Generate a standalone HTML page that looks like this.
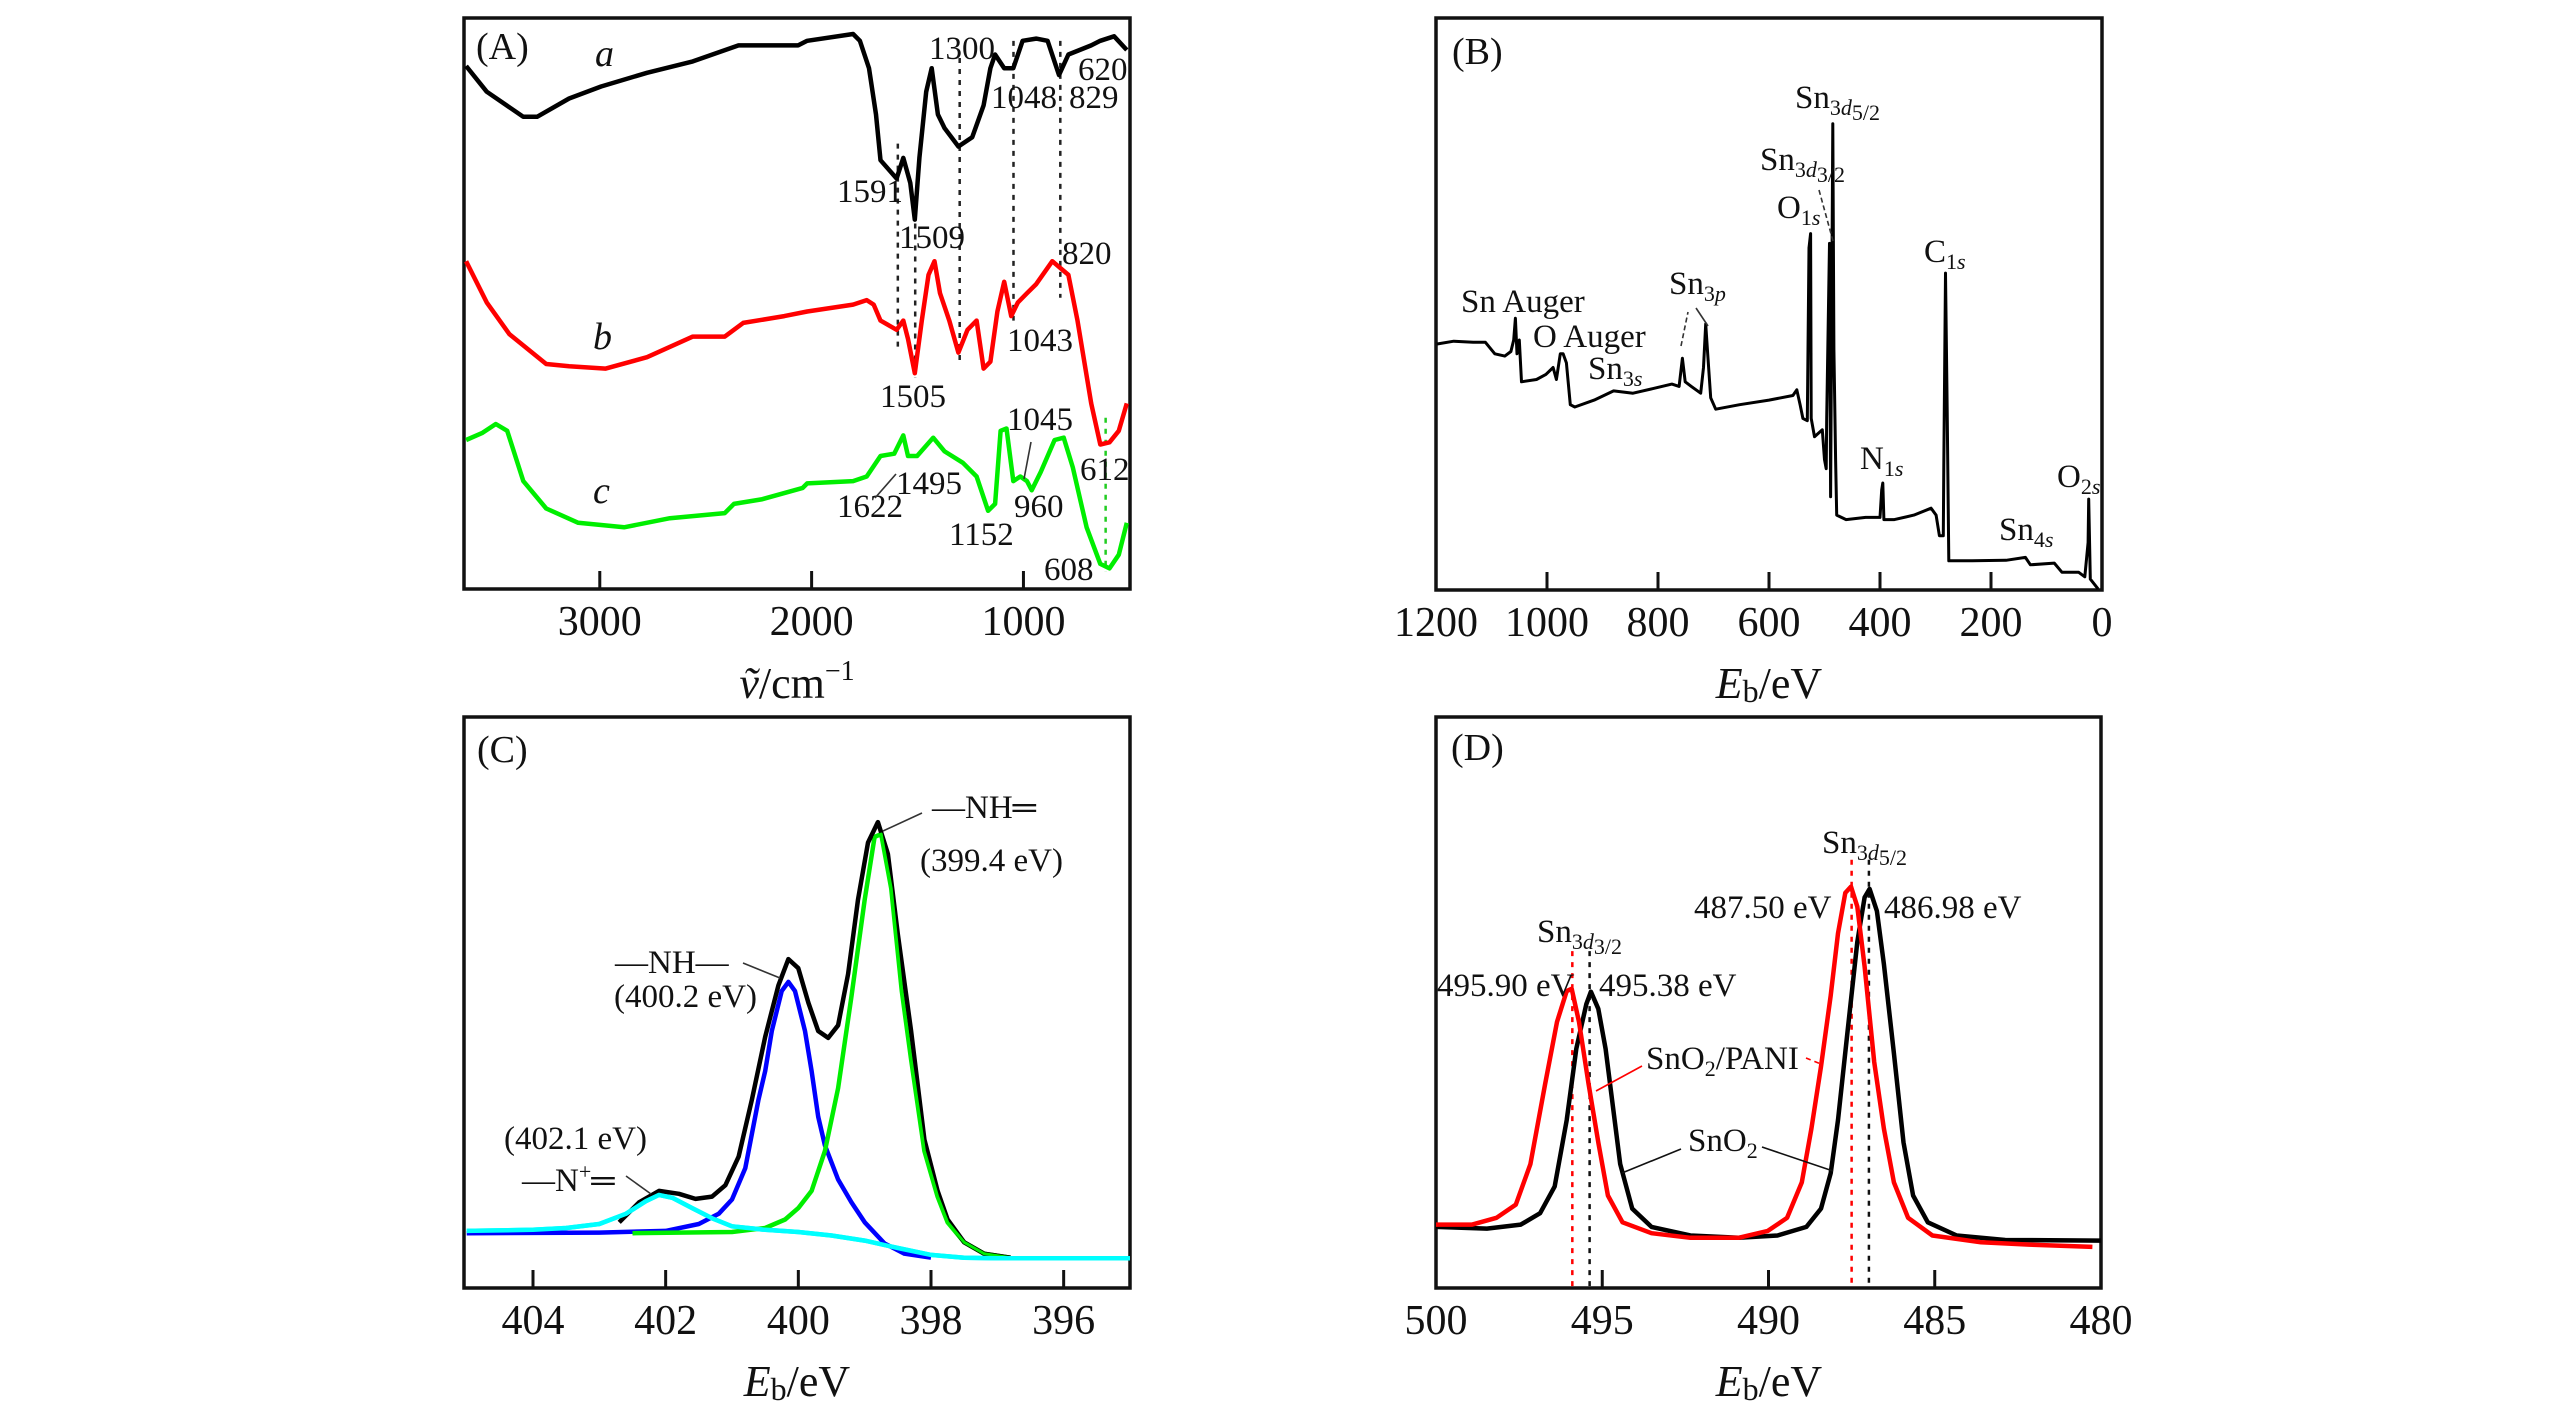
<!DOCTYPE html>
<html><head><meta charset="utf-8"><style>
html,body{margin:0;padding:0;background:#fff}
svg{display:block}
text{font-family:"Liberation Serif","Times New Roman",serif;fill:#111}
</style></head><body>
<svg id="fig" width="2567" height="1417" viewBox="0 0 2567 1417" xmlns="http://www.w3.org/2000/svg" font-family="Liberation Serif, serif">
<g id="g-frames"></g><g id="g-data"></g><g id="g-text" font-size="33">
<!-- Panel A labels -->
<text x="476" y="59" font-size="38">(A)</text>
<text x="595" y="66" font-size="38" font-style="italic">a</text>
<text x="593" y="349" font-size="38" font-style="italic">b</text>
<text x="593" y="503" font-size="38" font-style="italic">c</text>
<text x="929" y="59">1300</text>
<text x="1078" y="80">620</text>
<text x="991" y="108">1048</text>
<text x="1069" y="108">829</text>
<text x="837" y="202">1591</text>
<text x="899" y="248">1509</text>
<text x="1062" y="264">820</text>
<text x="1007" y="351">1043</text>
<text x="880" y="407">1505</text>
<text x="1007" y="430">1045</text>
<text x="1080" y="480">612</text>
<text x="896" y="494">1495</text>
<text x="837" y="517">1622</text>
<text x="1014" y="517">960</text>
<text x="949" y="545">1152</text>
<text x="1044" y="580">608</text>
<text x="797" y="698" font-size="44" text-anchor="middle"><tspan font-style="italic">ṽ</tspan>/cm<tspan dy="-18" font-size="28">−1</tspan></text>
<!-- Panel B labels -->
<text x="1452" y="64" font-size="38">(B)</text>
<text x="1461" y="312">Sn Auger</text>
<text x="1533" y="347">O Auger</text>
<text x="1588" y="379">Sn<tspan dy="7" font-size="22">3<tspan font-style="italic">s</tspan></tspan></text>
<text x="1669" y="294">Sn<tspan dy="7" font-size="22">3<tspan font-style="italic">p</tspan></tspan></text>
<text x="1760" y="170">Sn<tspan dy="7" font-size="22">3<tspan font-style="italic">d</tspan><tspan dy="5">3/2</tspan></tspan></text>
<text x="1777" y="218">O<tspan dy="7" font-size="22">1<tspan font-style="italic">s</tspan></tspan></text>
<text x="1795" y="108">Sn<tspan dy="7" font-size="22">3<tspan font-style="italic">d</tspan><tspan dy="5">5/2</tspan></tspan></text>
<text x="1924" y="262">C<tspan dy="7" font-size="22">1<tspan font-style="italic">s</tspan></tspan></text>
<text x="1860" y="469">N<tspan dy="7" font-size="22">1<tspan font-style="italic">s</tspan></tspan></text>
<text x="2057" y="487">O<tspan dy="7" font-size="22">2<tspan font-style="italic">s</tspan></tspan></text>
<text x="1999" y="540">Sn<tspan dy="7" font-size="22">4<tspan font-style="italic">s</tspan></tspan></text>
<text x="1769" y="698" font-size="44" text-anchor="middle"><tspan font-style="italic">E</tspan><tspan font-size="32" dy="4">b</tspan><tspan dy="-4">/eV</tspan></text>
<!-- Panel C labels -->
<text x="477" y="762" font-size="38">(C)</text>
<text x="932" y="818">—NH═</text>
<text x="920" y="871">(399.4 eV)</text>
<text x="615" y="973">—NH—</text>
<text x="614" y="1007">(400.2 eV)</text>
<text x="504" y="1149">(402.1 eV)</text>
<text x="522" y="1191">—N<tspan dy="-12" font-size="22">+</tspan><tspan dy="12">═</tspan></text>
<text x="797" y="1396" font-size="44" text-anchor="middle"><tspan font-style="italic">E</tspan><tspan font-size="32" dy="4">b</tspan><tspan dy="-4">/eV</tspan></text>
<!-- Panel D labels -->
<text x="1451" y="760" font-size="38">(D)</text>
<text x="1822" y="853">Sn<tspan dy="7" font-size="22">3<tspan font-style="italic">d</tspan><tspan dy="5">5/2</tspan></tspan></text>
<text x="1694" y="918">487.50 eV</text>
<text x="1884" y="918">486.98 eV</text>
<text x="1537" y="942">Sn<tspan dy="7" font-size="22">3<tspan font-style="italic">d</tspan><tspan dy="5">3/2</tspan></tspan></text>
<text x="1437" y="996">495.90 eV</text>
<text x="1599" y="996">495.38 eV</text>
<text x="1646" y="1069">SnO<tspan dy="7" font-size="22">2</tspan><tspan dy="-7">/PANI</tspan></text>
<text x="1688" y="1151">SnO<tspan dy="7" font-size="22">2</tspan></text>
<text x="1769" y="1396" font-size="44" text-anchor="middle"><tspan font-style="italic">E</tspan><tspan font-size="32" dy="4">b</tspan><tspan dy="-4">/eV</tspan></text>
</g>
<g stroke-width="1.6" fill="none">
<line x1="875" y1="498" x2="896" y2="474" stroke="#333"/>
<line x1="1024" y1="479" x2="1031" y2="442" stroke="#333"/>
<line x1="1681" y1="346" x2="1688" y2="312" stroke="#333" stroke-dasharray="5,3"/>
<line x1="1696" y1="308" x2="1708" y2="326" stroke="#333"/>
<line x1="1819" y1="190" x2="1833" y2="241" stroke="#333" stroke-dasharray="5,3"/>
<line x1="883" y1="831" x2="922" y2="813" stroke="#333"/>
<line x1="743" y1="963" x2="780" y2="978" stroke="#333"/>
<line x1="626" y1="1176" x2="651" y2="1194" stroke="#333"/>
<line x1="1596" y1="1091" x2="1642" y2="1066" stroke="#f00"/>
<line x1="1806" y1="1058" x2="1821" y2="1064" stroke="#f00" stroke-dasharray="5,4"/>
<line x1="1622" y1="1173" x2="1681" y2="1149" stroke="#111"/>
<line x1="1762" y1="1147" x2="1833" y2="1171" stroke="#111"/>
</g>
</svg>
<script>
// ===== Panel A (FTIR) data =====
const aWave = [3631,3534,3361,3296,3145,2994,2777,2561,2345,2064,2021,1804,1772,1729,1696,1675,1599,1567,1534,1513,1491,1459,1433,1404,1372,1307,1242,1188,1156,1134,1091,1048,1004,940,886,832,788,680,637,572,512];
const aVals = [91.6,87.1,82.7,82.7,85.9,88,90.4,92.4,95.2,95.2,96,97.2,96,91.2,83.1,75.1,71.9,75.5,71.1,64.7,75.5,87.1,91.2,83.1,80.7,77.5,79.1,84.7,91.2,93.6,91.2,91.2,96,96.4,96,90,93.6,95.2,96,96.8,94.4];
const bWave = [3631,3534,3426,3253,3145,2972,2777,2561,2410,2323,2129,2021,1804,1740,1707,1675,1599,1567,1545,1513,1480,1448,1420,1394,1350,1307,1264,1221,1188,1156,1123,1091,1058,1026,983,940,864,788,745,680,637,594,550,512];
const bVals = [57.4,50.2,44.6,39.4,39,38.6,40.6,44.2,44.2,46.6,47.8,48.6,49.8,50.6,49.8,47,45.4,47,43.8,37.8,47,55,57.4,51.8,47,41.4,45.4,47,38.6,39.8,48.6,53.8,47.8,50.2,51.8,53.4,57.4,55,47,32.5,25.3,25.7,27.7,32.5];
const cWave = [3631,3556,3491,3437,3361,3253,3102,2885,2669,2410,2367,2237,2042,2021,1804,1740,1675,1610,1567,1545,1502,1426,1372,1286,1221,1167,1134,1108,1080,1048,1015,983,961,918,853,810,767,702,637,594,550,512];
const cVals = [26.1,27.3,28.9,27.7,18.9,14.1,11.6,10.8,12.4,13.3,14.9,15.7,17.7,18.5,18.9,19.7,23.3,23.7,26.9,23.3,23.3,26.5,24.1,22.1,19.7,13.7,14.9,27.7,28.1,18.9,19.7,18.9,17.3,20.5,26.1,26.5,21.3,10.8,4.4,3.6,6,11.6];
const aTicks = [3000,2000,1000];
const aMarkBlack = [1593,1511,1301,1047,826];
const aMarkTop = [78,64,93,96,96];
const aMarkBot = [42,37,40,47,51];
const aMarkGreen = [612];

// ===== Panel B (XPS survey) data =====
const sEnergy = [1198,1168,1133,1111,1094,1076,1065,1060,1057,1054,1050,1046,1019,1002,989,983,976,971,965,958,950,915,880,845,810,775,762,756,751,740,723,718,714,710,705,696,653,600,557,550,544,539,531,528,525,524,518,504,500,497,496,491,489,485,483,480,478,461,426,400,397,395,393,374,339,308,299,293,286,285,282,279,276,234,173,138,129,86,72,42,31,25,24,21,7];
const sCounts = [43,43.5,43.3,43.3,41.3,40.9,41.7,43.7,47.5,41.3,43.7,36.4,36.8,37.7,38.9,36.8,41.3,41.3,39.7,32.4,32,33.2,34.8,34.4,35.2,36,35.6,40.5,36.4,35.6,34.4,38.9,46.5,40.5,33.6,31.6,32.4,33.2,34,35,32.4,30,29.6,59.8,62.3,30,26.8,28,22.8,21.2,30,60.6,16.3,81.5,42.1,22.8,13.1,12.3,12.7,12.7,17.5,18.7,12.3,12.3,13.1,14.3,13.1,9.5,9.5,21.6,55.4,31.2,5.1,5.1,5.2,5.7,4.4,4.7,3.1,3.1,2.3,8.3,15.9,1.9,0.2];
const bTicks = [1200,1000,800,600,400,200,0];

// ===== Panel C (N1s) data =====
const nEnvE = [402.7,402.4,402.1,401.8,401.55,401.3,401.1,400.9,400.7,400.5,400.3,400.15,400,399.85,399.7,399.55,399.4,399.25,399.1,398.95,398.8,398.65,398.5,398.3,398.1,397.9,397.75,397.5,397.2,396.8];
const nEnvI = [11.5,15,17,16.5,15.6,16,18,23,33,44,53,57.6,56,50,45,43.8,46,55,68,78,81.6,76,62,45,26,17,12,8,6,5.3];
const nPlusE = [405,404,403.5,403,402.6,402.3,402.1,401.9,401.6,401.3,401,400.5,400,399.5,399,398.5,398,397.5,397,395];
const nPlusI = [10,10.2,10.5,11.2,13,15.2,16.3,15.8,14,12.2,10.8,10.2,9.8,9.2,8.3,7,5.8,5.3,5.2,5.2];
const nAmE = [405,403,402,401.5,401.2,401,400.8,400.6,400.5,400.4,400.25,400.15,400.05,399.9,399.8,399.7,399.6,399.4,399.2,399,398.7,398.4,398];
const nAmI = [9.6,9.7,10,11.2,13,15.5,21,33,38,45,52,53.6,52,45,38,30,25,19,15,11.5,7.8,6,5.3];
const nImE = [402.5,401,400.5,400.2,400,399.8,399.6,399.4,399.2,399,398.85,398.75,398.6,398.44,398.3,398.1,397.9,397.75,397.5,397.2,396.8];
const nImI = [9.6,9.8,10.5,12,14,17,24,35,51,68,79,79.5,70,52,40,24,16,11.5,8,6,5.3];
const cTicks = [404,402,400,398,396];

// ===== Panel D (Sn3d) data =====
const dBlackE = [500,498.47,497.45,496.87,496.43,496.07,495.78,495.48,495.34,495.12,494.9,494.68,494.46,494.1,493.52,492.35,490.9,489.73,488.86,488.42,488.13,487.91,487.62,487.33,487.11,486.96,486.74,486.53,486.23,485.94,485.65,485.21,484.34,482.88,480];
const dBlackI = [10.7,10.4,11.1,13.1,17.8,29.4,41.9,49.7,51.9,48.9,41.9,31.8,21.7,13.9,10.7,9.2,8.8,9.2,10.7,13.9,20.1,29.4,45,60.6,68.4,69.9,66,56.7,41.1,25.5,16.2,11.5,9.2,8.4,8.3];
const dRedE = [500,498.91,498.18,497.6,497.16,496.72,496.36,496.07,495.92,495.7,495.41,495.12,494.83,494.39,493.52,492.35,490.9,490.02,489.44,489,488.71,488.42,488.13,487.91,487.69,487.52,487.33,487.11,486.82,486.53,486.23,485.8,485.07,483.61,482.16,480.26];
const dRedI = [11.1,11.1,12.3,14.6,21.7,35.7,46.6,52,52.4,46.6,35.7,25.5,16.2,11.5,9.6,8.8,8.8,10,12.3,18.5,27.9,38.8,51.2,62.1,69.2,70.3,66.8,56.3,39.6,27.9,18.5,12.3,9.2,8,7.6,7.2];
const dPeakRed = [495.90,487.50];
const dPeakBlack = [495.38,486.98];
const dPeakTop = [59,75];
const dTicks = [500,495,490,485,480];

// ===== drawing =====
const NS = 'http://www.w3.org/2000/svg';
const gF = document.getElementById('g-frames');
const gD = document.getElementById('g-data');
function mk(tag, attrs, parent){ const e=document.createElementNS(NS,tag); for(const k in attrs) e.setAttribute(k,attrs[k]); parent.appendChild(e); return e; }
function panel(x0,y0,x1,y1,d0,d1){
  return {x0,y0,x1,y1,sx:v=>x0+(v-d0)/(d1-d0)*(x1-x0),sy:v=>y1-v/100*(y1-y0)};
}
const PA = panel(464,18,1130,589,3641,497);
const PB = panel(1436,18,2102,590,1200,0);
const PC = panel(464,717,1130,1288,405.04,395.0);
const PD = panel(1436,717,2101,1288,500,480);

function frame(P,ticks,name){
  const r = mk('rect',{x:P.x0,y:P.y0,width:P.x1-P.x0,height:P.y1-P.y0,fill:'none',stroke:'#111','stroke-width':3.5},gF);
  
  
  ticks.forEach(t=>{
    const x=P.sx(t);
    if (x>P.x0+2 && x<P.x1-2){
      const l=mk('line',{x1:x,y1:P.y1,x2:x,y2:P.y1-18,stroke:'#111','stroke-width':3},gF);
      
      
    }
    const tx=mk('text',{x:x,y:P.y1+46,'text-anchor':'middle','font-size':42},gF);
    tx.textContent=String(t);
    
    
  });
}
frame(PA,aTicks,'panel-a');
frame(PB,bTicks,'panel-b');
frame(PC,cTicks,'panel-c');
frame(PD,dTicks,'panel-d');

function line(P,xs,ys,color,w,name){
  const pts=xs.map((x,i)=>P.sx(x).toFixed(1)+','+P.sy(ys[i]).toFixed(1)).join(' ');
  const pl=mk('polyline',{points:pts,fill:'none',stroke:color,'stroke-width':w,'stroke-linejoin':'round'},gD);
  
  
}
function vdot(P,x,top,bot,color,name){
  const l=mk('line',{x1:P.sx(x),x2:P.sx(x),y1:P.sy(top),y2:P.sy(bot),stroke:color,'stroke-width':2.5,'stroke-dasharray':'5,6'},gD);
  
  
}
// A
aMarkBlack.forEach((w,i)=>vdot(PA,w,aMarkTop[i],aMarkBot[i],'#222','ftir-peak-guide'));
aMarkGreen.forEach(w=>vdot(PA,w,30,3,'#2c2','ftir-peak-guide-green'));
line(PA,aWave,aVals,'#000',4.5,'ftir-curve-a');
line(PA,bWave,bVals,'#f00',4.5,'ftir-curve-b');
line(PA,cWave,cVals,'#0e0',4.5,'ftir-curve-c');
// B
line(PB,sEnergy,sCounts,'#000',3,'xps-survey-curve');
// C
line(PC,nPlusE,nPlusI,'#0ff',4.5,'n-plus-component');
line(PC,nAmE,nAmI,'#00f',4.5,'amine-component');
line(PC,nImE,nImI,'#0e0',4.5,'imine-component');
line(PC,nEnvE,nEnvI,'#000',4.5,'n1s-envelope');
line(PC,nImE,nImI,'#0e0',3,'imine-component-top');
line(PC,nPlusE,nPlusI,'#0ff',4.5,'n-plus-component-top');
// D
dPeakRed.forEach((e,i)=>vdot(PD,e,dPeakTop[i],0,'#f00','sn-peak-guide-red'));
dPeakBlack.forEach((e,i)=>vdot(PD,e,dPeakTop[i],0,'#111','sn-peak-guide-black'));
line(PD,dBlackE,dBlackI,'#000',4.5,'sno2-curve');
line(PD,dRedE,dRedI,'#f00',4.5,'sno2-pani-curve');
</script>
</body></html>
